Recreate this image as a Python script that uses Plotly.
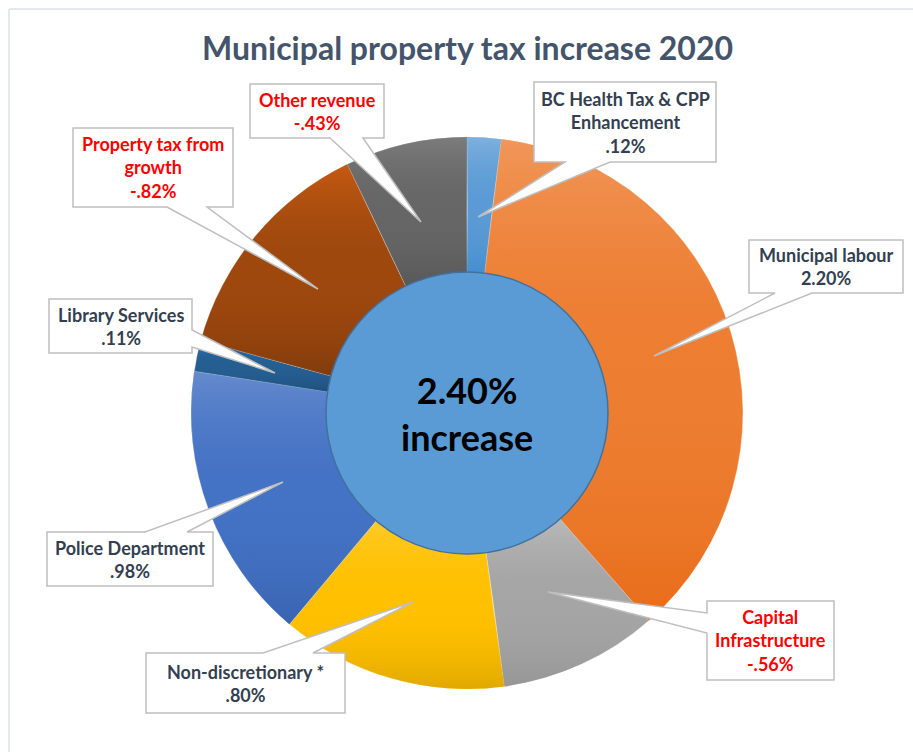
import base64
import colorsys
import math

import plotly.graph_objects as go

# Contribution of each budget item to the 2020 municipal property tax change (%)
categories = [
    "BC Health Tax & CPP\nEnhancement",
    "Municipal labour",
    "Capital\nInfrastructure",
    "Non-discretionary *",
    "Police Department",
    "Library Services",
    "Property tax from\ngrowth",
    "Other revenue",
]
changes = [0.12, 2.20, -0.56, 0.80, 0.98, 0.11, -0.82, -0.43]
colors = ["#5B9BD5", "#ED7D31", "#A5A5A5", "#FFC000",
          "#4472C4", "#255E91", "#9E480E", "#666666"]

W, H = 913, 752
FONT = "Lato"
DARK = "#333F50"
RED = "#FF0000"


def px(x, y):
    """Pixel position on the page -> paper coordinates."""
    return x / W, 1 - y / H


def fmt(v):
    s = f"{abs(v):.2f}"
    if s.startswith("0"):
        s = s[1:]
    return ("-" if v < 0 else "") + s + "%"


def shift_lightness(hex_color, dl):
    r, g, b = (int(hex_color[i:i + 2], 16) / 255 for i in (1, 3, 5))
    h, l, s = colorsys.rgb_to_hls(r, g, b)
    l = min(1.0, max(0.0, l + dl))
    r, g, b = colorsys.hls_to_rgb(h, l, s)
    return "#{:02x}{:02x}{:02x}".format(round(r * 255), round(g * 255), round(b * 255))


total = sum(changes)
sizes = [abs(v) for v in changes]

# pie geometry (pixels)
cx, cy, R = 467, 413, 276
HOLE = 0.5
inner_r = 141

fig = go.Figure()
fig.add_trace(go.Pie(
    labels=[c.replace("\n", " ") for c in categories],
    values=sizes,
    marker=dict(colors=colors, line=dict(color="rgba(255,255,255,0.55)", width=0.8)),
    sort=False,
    direction="clockwise",
    rotation=0,
    hole=HOLE,
    textinfo="none",
    hoverinfo="label+value",
    showlegend=False,
    domain=dict(x=[(cx - R) / W, (cx + R) / W], y=[1 - (cy + R) / H, 1 - (cy - R) / H]),
))


# Soft vertical shading on each ring segment (lighter tint at the top, deeper
# shade at the bottom of every segment), laid over the pie as a translucent SVG.
def shading_svg():
    d = 2 * R
    r_in = R * HOLE
    tot = sum(sizes)
    parts = [f'<svg xmlns="http://www.w3.org/2000/svg" width="{d}" height="{d}" viewBox="0 0 {d} {d}"><defs>']
    for i, col in enumerate(colors):
        top = shift_lightness(col, 0.10)
        bot = shift_lightness(col, -0.07)
        parts.append(
            f'<linearGradient id="g{i}" x1="0" y1="0" x2="0" y2="1">'
            f'<stop offset="0" stop-color="{top}" stop-opacity="0.85"/>'
            f'<stop offset="0.5" stop-color="{col}" stop-opacity="0"/>'
            f'<stop offset="1" stop-color="{bot}" stop-opacity="0.85"/>'
            '</linearGradient>')
    parts.append("</defs>")
    acc = 0.0
    for i, s in enumerate(sizes):
        a0 = 2 * math.pi * acc / tot
        acc += s
        a1 = 2 * math.pi * acc / tot
        large = 1 if (a1 - a0) > math.pi else 0

        def pt(r, a):
            return R + r * math.sin(a), R - r * math.cos(a)

        p0 = pt(R, a0)
        p1 = pt(R, a1)
        q1 = pt(r_in, a1)
        q0 = pt(r_in, a0)
        path = (f"M{p0[0]:.2f},{p0[1]:.2f} A{R},{R} 0 {large} 1 {p1[0]:.2f},{p1[1]:.2f} "
                f"L{q1[0]:.2f},{q1[1]:.2f} A{r_in},{r_in} 0 {large} 0 {q0[0]:.2f},{q0[1]:.2f} Z")
        parts.append(f'<path d="{path}" fill="url(#g{i})"/>')
    parts.append("</svg>")
    return "data:image/svg+xml;base64," + base64.b64encode("".join(parts).encode()).decode()


images = [dict(source=shading_svg(), xref="paper", yref="paper",
               x=(cx - R) / W, y=1 - (cy - R) / H, sizex=2 * R / W, sizey=2 * R / H,
               xanchor="left", yanchor="top", sizing="stretch", layer="above")]

shapes = []
annotations = []

# chart frame (top and left edges)
shapes.append(dict(type="line", xref="paper", yref="paper",
                   x0=9 / W, y0=1 - 9 / H, x1=1, y1=1 - 9 / H,
                   line=dict(color="#DCE1E7", width=1.5)))
shapes.append(dict(type="line", xref="paper", yref="paper",
                   x0=9 / W, y0=1 - 9 / H, x1=9 / W, y1=0,
                   line=dict(color="#DCE1E7", width=1.5)))

# centre disc
x0, y0 = px(cx - inner_r, cy + inner_r)
x1, y1 = px(cx + inner_r, cy - inner_r)
shapes.append(dict(type="circle", xref="paper", yref="paper",
                   x0=x0, y0=y0, x1=x1, y1=y1,
                   fillcolor="#5B9BD5", line=dict(color="#41719C", width=1.5)))

# callout boxes: (left, top, right, bottom), side carrying the pointer,
# pointer base along that side (start, end), pointer tip
callouts = [
    ((534, 82, 716, 162), "bottom", (565, 610), (478, 217)),
    ((749, 240, 903, 293), "bottom", (775, 812), (654, 356)),
    ((707, 601, 834, 680), "left", (613, 633), (548, 592)),
    ((146, 653, 345, 713), "top", (263, 313), (413, 602)),
    ((47, 532, 213, 586), "top", (145, 187), (283, 482)),
    ((49, 299, 192, 353), "right", (330, 347), (275, 373)),
    ((73, 128, 233, 207), "bottom", (167, 207), (318, 289)),
    ((250, 84, 384, 138), "bottom", (330, 363), (421, 222)),
]


def callout_path(box, side, base, tip):
    l, t, r, b = box
    a, c = base
    if side == "bottom":
        pts = [(l, t), (r, t), (r, b), (c, b), tip, (a, b), (l, b)]
    elif side == "top":
        pts = [(l, t), (a, t), tip, (c, t), (r, t), (r, b), (l, b)]
    elif side == "left":
        pts = [(l, t), (r, t), (r, b), (l, b), (l, c), tip, (l, a)]
    else:  # right
        pts = [(l, t), (r, t), (r, a), tip, (r, c), (r, b), (l, b)]
    coords = [px(x, y) for x, y in pts]
    return "M " + " L ".join(f"{x:.5f},{y:.5f}" for x, y in coords) + " Z"


for cat, val, (box, side, base, tip) in zip(categories, changes, callouts):
    shapes.append(dict(type="path", xref="paper", yref="paper",
                       path=callout_path(box, side, base, tip),
                       fillcolor="white", line=dict(color="#BFBFBF", width=1.5)))
    l, t, r, b = box
    tx, ty = px((l + r) / 2, (t + b) / 2)
    text = "<b>" + cat.replace("\n", "<br>") + "<br>" + fmt(val) + "</b>"
    annotations.append(dict(xref="paper", yref="paper", x=tx, y=ty,
                            xanchor="center", yanchor="middle", showarrow=False,
                            text=text, align="center",
                            font=dict(family=FONT, size=18,
                                      color=RED if val < 0 else DARK)))

# centre label
tx, ty = px(cx, cy + 1)
annotations.append(dict(xref="paper", yref="paper", x=tx, y=ty,
                        xanchor="center", yanchor="middle", showarrow=False,
                        text=f"<b>{total:.2f}%<br>increase</b>",
                        font=dict(family=FONT, size=36, color="#000000")))

# title
tx, ty = px(467, 48)
annotations.append(dict(xref="paper", yref="paper", x=tx, y=ty,
                        xanchor="center", yanchor="middle", showarrow=False,
                        text="<b>Municipal property tax increase 2020</b>",
                        font=dict(family=FONT, size=32, color="#44546A")))

fig.update_layout(
    width=W, height=H,
    margin=dict(l=0, r=0, t=0, b=0),
    paper_bgcolor="white",
    plot_bgcolor="white",
    shapes=shapes,
    annotations=annotations,
    images=images,
)

fig.write_html("out.html")
